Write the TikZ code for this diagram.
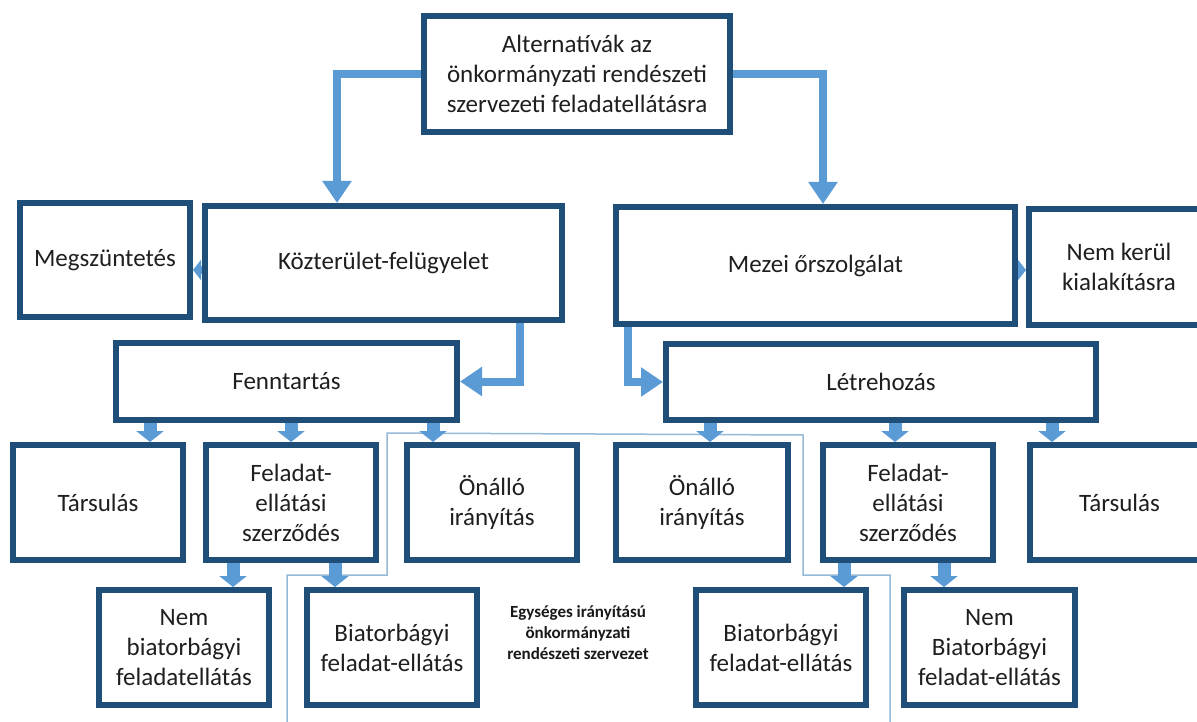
\documentclass[tikz,border=0pt]{standalone}
\usepackage{fontspec}
\setmainfont{Carlito}
\usetikzlibrary{arrows.meta}
\definecolor{boxc}{RGB}{31,78,121}
\definecolor{arrc}{RGB}{91,155,213}
\definecolor{thinc}{RGB}{150,185,215}
\newcommand\mybox[6]{\node[box, minimum width={#4-#2-6}, minimum height={#5-#3-6}] (#1) at ({(#2+#4)/2},{(#3+#5)/2}) {#6};}
\begin{document}
\begin{tikzpicture}[x=1pt,y=-1pt,
  box/.style={draw=boxc, line width=6pt, fill=white, align=center, inner sep=0pt,
    font=\fontsize{25}{30}\selectfont, text=black!88},
  bigarr/.style={draw=arrc, line width=8pt, -{Triangle[width=28pt,length=22pt]}},
  smallarr/.style={draw=arrc, line width=13pt, -{Triangle[width=27pt,length=11pt]}},
  tinyarr/.style={draw=arrc, line width=8pt, -{Triangle[width=20pt,length=8pt]}},
  thinline/.style={draw=thinc, line width=1.5pt},
  note/.style={font=\bfseries\fontsize{17}{21}\selectfont, align=center, text=black!90}]
\clip (0,0) rectangle (1197,722);
\fill[white] (0,0) rectangle (1197,722);
% region outline
\draw[thinline] (287,730) -- (287,575) -- (387,575) -- (387,433) -- (803,435) -- (803,575) -- (890,575) -- (890,730);
% boxes
\mybox{top}{421}{13}{733}{135}{Alternatívák az\\önkormányzati rendészeti\\szervezeti feladatellátásra}
\mybox{megsz}{17}{200}{193}{320}{Megszüntetés}
\mybox{kozt}{202}{203}{565}{323}{Közterület-felügyelet}
\mybox{mezei}{613}{204}{1018}{327}{Mezei őrszolgálat}
\mybox{nemker}{1026}{206}{1212}{328}{Nem kerül\\kialakításra}
\mybox{fennt}{113}{340}{460}{423}{Fenntartás}
\mybox{letre}{663}{341}{1099}{423}{Létrehozás}
\mybox{tars1}{10}{442}{186}{563}{Társulás}
\mybox{fel1}{203}{442}{379}{563}{Feladat-\\ellátási\\szerződés}
\mybox{onal1}{404}{442}{580}{563}{Önálló\\irányítás}
\mybox{onal2}{613}{442}{791}{563}{Önálló\\irányítás}
\mybox{fel2}{820}{442}{996}{563}{Feladat-\\ellátási\\szerződés}
\mybox{tars2}{1027}{442}{1212}{563}{Társulás}
\mybox{nb1}{96}{587}{272}{708}{Nem\\biatorbágyi\\feladatellátás}
\mybox{bia1}{304}{587}{480}{708}{Biatorbágyi\\feladat-ellátás}
\mybox{bia2}{693}{587}{869}{708}{Biatorbágyi\\feladat-ellátás}
\mybox{nb2}{901}{587}{1078}{708}{Nem\\Biatorbágyi\\feladat-ellátás}
\node[note] (unif) at (578,633) {Egységes irányítású\\önkormányzati\\rendészeti szervezet};
% big arrows
\draw[bigarr] (top.west) -| ([xshift=-46.5pt]kozt.north);
\draw[bigarr] (top.east) -| ([xshift=7.5pt]mezei.north);
\draw[bigarr] ([xshift=136.5pt]kozt.south) |- (fennt.east);
\draw[bigarr] ([xshift=-187.5pt]mezei.south) |- (letre.west);
% tiny side arrows
\draw[tinyarr] ([yshift=-7pt]kozt.west) -- ([yshift=-7pt]kozt.west -| megsz.east);
\draw[tinyarr] ([yshift=-4.5pt]mezei.east) -- ([yshift=-4.5pt]mezei.east -| nemker.west);
% small down arrows
\draw[smallarr] ([xshift=-136.5pt]fennt.south) -- ([xshift=-136.5pt]fennt.south |- tars1.north);
\draw[smallarr] ([xshift=4.5pt]fennt.south) -- ([xshift=4.5pt]fennt.south |- fel1.north);
\draw[smallarr] ([xshift=146.5pt]fennt.south) -- ([xshift=146.5pt]fennt.south |- onal1.north);
\draw[smallarr] ([xshift=-171pt]letre.south) -- ([xshift=-171pt]letre.south |- onal2.north);
\draw[smallarr] ([xshift=14pt]letre.south) -- ([xshift=14pt]letre.south |- fel2.north);
\draw[smallarr] ([xshift=171pt]letre.south) -- ([xshift=171pt]letre.south |- tars2.north);
\draw[smallarr] ([xshift=-58pt]fel1.south) -- ([xshift=-58pt]fel1.south |- nb1.north);
\draw[smallarr] ([xshift=44pt]fel1.south) -- ([xshift=44pt]fel1.south |- bia1.north);
\draw[smallarr] ([xshift=-64pt]fel2.south) -- ([xshift=-64pt]fel2.south |- bia2.north);
\draw[smallarr] ([xshift=36pt]fel2.south) -- ([xshift=36pt]fel2.south |- nb2.north);
\end{tikzpicture}
\end{document}
